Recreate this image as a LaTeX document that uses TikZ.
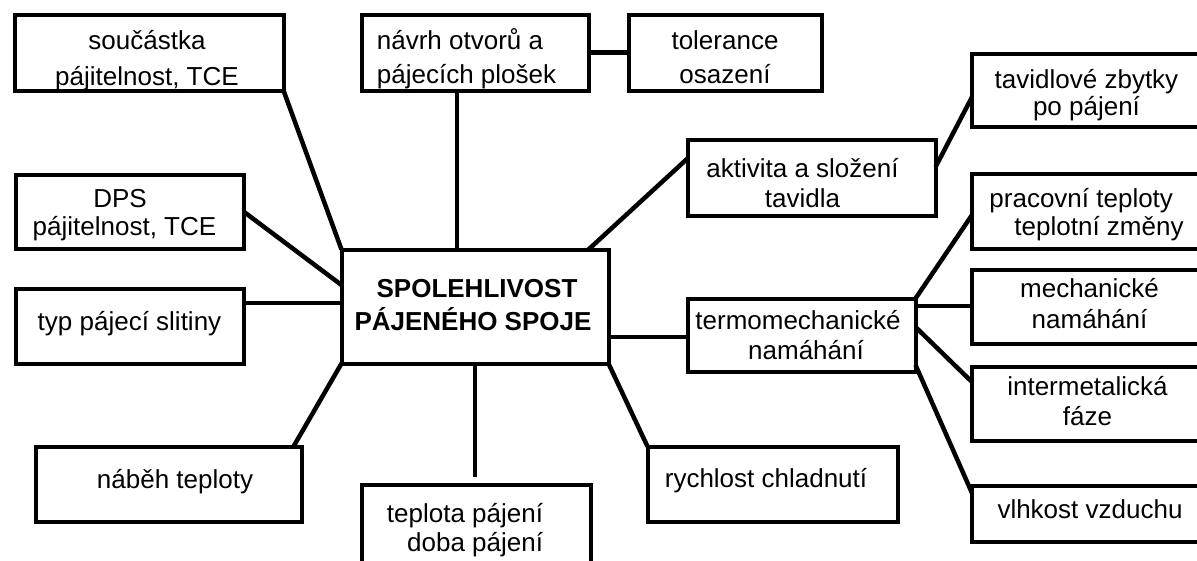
\documentclass[tikz,border=0pt]{standalone}
\usepackage{fontspec}
\setmainfont{Liberation Sans}
\usetikzlibrary{calc}
% #1 baselineskip, #2 horizontal shift, #3 raise, #4 column type, #5 lines
\newcommand{\bt}[5]{\hspace*{#2}\raisebox{#3}[\height][\depth]{\fontsize{26pt}{#1}\selectfont\begin{tabular}{@{}#4@{}}#5\end{tabular}}\hspace*{-#2}}
\begin{document}
\begin{tikzpicture}[x=1pt,y=-1pt,
  box/.style={draw=black, line width=4pt, rectangle, inner sep=0pt, outer sep=0pt, fill=white},
  link/.style={draw=black, line width=4.5pt}]
\useasboundingbox (0,0) rectangle (1197,560);
\fill[white] (0,0) rectangle (1197,560);
\begin{scope}
\clip (0,0) rectangle (1197,560);
% left column
\node[box, minimum width=269pt, minimum height=76pt] (souc) at (149,52.5)
  {\bt{36pt}{-2pt}{-7.8pt}{c}{součástka\\pájitelnost, TCE}};
\node[box, minimum width=228pt, minimum height=74pt] (dps) at (129.5,211.5)
  {\bt{28pt}{-5pt}{-3.9pt}{c}{\hspace*{-9pt}DPS\\pájitelnost, TCE}};
\node[box, minimum width=228pt, minimum height=75pt] (typ) at (129.5,326)
  {\bt{30pt}{0pt}{2pt}{c}{typ pájecí slitiny}};
\node[box, minimum width=266pt, minimum height=75pt] (nabeh) at (168.5,484)
  {\bt{30pt}{6.5pt}{2pt}{c}{náběh teploty}};
% top row
\node[box, minimum width=227pt, minimum height=76pt] (navrh) at (475,52.5)
  {\bt{34pt}{-8.5pt}{-6.7pt}{l}{návrh otvorů a\\pájecích plošek}};
\node[box, minimum width=193pt, minimum height=76pt] (toler) at (725,52.5)
  {\bt{34pt}{0pt}{-6.7pt}{c}{tolerance\\osazení}};
% centre
\node[box, minimum width=267pt, minimum height=114pt] (central) at (475,306.5)
  {\bfseries\bt{33pt}{-2pt}{-0.4pt}{c}{\hspace*{8pt}SPOLEHLIVOST\\PÁJENÉHO SPOJE}};
\node[box, minimum width=229pt, minimum height=105pt] (tepl) at (476,537.5)
  {\bt{29pt}{-11pt}{6.8pt}{r}{teplota pájení\\doba pájení}};
\node[box, minimum width=250pt, minimum height=75pt] (rychl) at (772.5,484)
  {\bt{30pt}{-6.5pt}{3pt}{c}{rychlost chladnutí}};
\node[box, minimum width=248pt, minimum height=76pt] (aktiv) at (811.5,177.5)
  {\bt{30pt}{-9pt}{-8.5pt}{c}{aktivita a složení\\tavidla}};
\node[box, minimum width=228pt, minimum height=73pt] (termo) at (801.5,335)
  {\bt{30pt}{0pt}{-3pt}{c}{\hspace*{-7pt}termomechanické\\\hspace*{9pt}namáhání}};
% right column
\node[box, minimum width=229pt, minimum height=73pt] (tavzb) at (1086.5,90)
  {\bt{27pt}{0pt}{-6.1pt}{c}{tavidlové zbytky\\po pájení}};
\node[box, minimum width=229pt, minimum height=75pt] (prac) at (1086.5,211)
  {\bt{28pt}{0pt}{-4.4pt}{l}{pracovní teploty\\\hspace*{25pt}teplotní změny}};
\node[box, minimum width=229pt, minimum height=74pt] (mech) at (1086.5,306.5)
  {\bt{31pt}{3pt}{0pt}{c}{mechanické\\namáhání}};
\node[box, minimum width=229pt, minimum height=74pt] (inter) at (1086.5,403.5)
  {\bt{30pt}{1pt}{-0.5pt}{c}{intermetalická\\fáze}};
\node[box, minimum width=229pt, minimum height=56pt] (vlhk) at (1086.5,513.5)
  {\bt{30pt}{3.5pt}{1.5pt}{c}{vlhkost vzduchu}};
% connectors
\draw[link] (souc.south east) -- (central.north west);
\draw[link] (dps.east) -- ([yshift=21.5pt]central.west);
\draw[link] ([yshift=23pt]typ.east) -- ([yshift=3.5pt]central.west);
\draw[link] ([xshift=-8pt]nabeh.north east) -- (central.south west);
\draw[link] ([xshift=-18pt]navrh.south) -- ([xshift=-18pt]navrh.south |- central.north);
\draw[link] (navrh.east) -- (toler.west);
\draw[link] (central.south) -- ([yshift=8pt]central.south |- tepl.north);
\draw[link] (central.south east) -- (rychl.north west);
\draw[link] ([yshift=-30.5pt]central.east) -- ([yshift=-2pt]termo.west);
\draw[link] ([xshift=-20pt]central.north east) -- ([yshift=-19pt]aktiv.north west);
\draw[link] ([yshift=10.5pt]aktiv.east) -- ([yshift=-7pt]tavzb.west);
\draw[link] (termo.north east) -- ([yshift=-4pt]prac.west);
\draw[link] ([yshift=29pt]termo.east) -- ([yshift=29pt]termo.east -| mech.west);
\draw[link] ([yshift=8pt]termo.east) -- ([yshift=21.5pt]inter.west);
\draw[link] ([yshift=-30pt]termo.east) -- ([yshift=20.5pt]vlhk.west);
\end{scope}
\end{tikzpicture}
\end{document}
